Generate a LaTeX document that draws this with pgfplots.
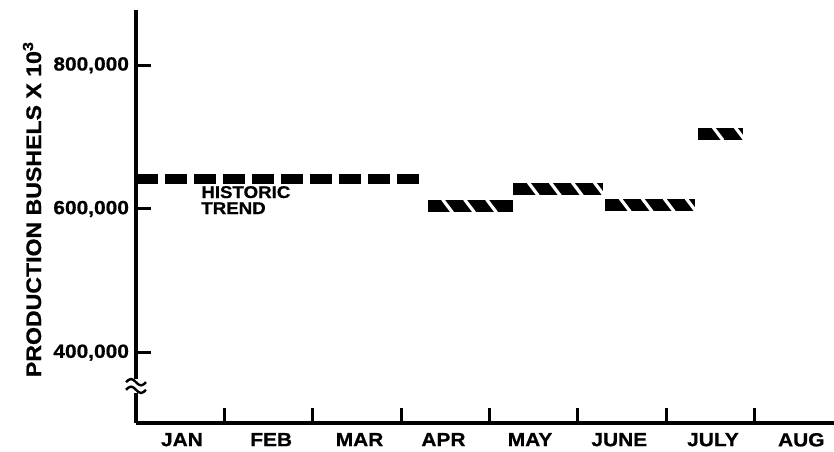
\documentclass[border=0pt]{standalone}
\usepackage{fontspec}
\setmainfont{Liberation Sans Bold}[FakeStretch=1.1, FakeBold=0.8]
\usepackage{pgfplots}
\pgfplotsset{compat=1.18}
\usetikzlibrary{decorations.markings}
\begin{document}
\begin{tikzpicture}
\useasboundingbox (0,0) rectangle (417pt,225.5pt);
\begin{axis}[
  at={(68pt,14pt)}, anchor=south west,
  scale only axis, width=349pt, height=206.5pt,
  xmin=0, xmax=7.9, ymin=302000, ymax=877000,
  axis x line=bottom, axis y line=left,
  axis line style={line width=1.6pt, -},
  tick align=inside,
  major tick length=7.5pt,
  tick style={line width=1.5pt, black},
  xtick={1,2,3,4,5,6,7}, xticklabels={},
  extra x ticks={0.52,1.53,2.53,3.48,4.46,5.47,6.53,7.53},
  extra x tick labels={JAN,FEB,MAR,APR,MAY,JUNE,JULY,AUG},
  extra x tick style={major tick length=0pt, tick style={draw=none},
     ticklabel style={yshift=-1.5pt}},
  ytick={400000,600000,800000},
  yticklabels={{400,000},{600,000},{800,000}},
  scaled y ticks=false,
  /pgf/number format/assume math mode=true,
  ticklabel style={font=\fontsize{9.5}{11}\selectfont},
  ylabel={PRODUCTION BUSHELS X 10\textsuperscript{3}},
  every axis y label/.style={at={(axis description cs:-0.149,0.518)}, rotate=90, anchor=center,
     font=\fontsize{10.5}{12}\selectfont},
  clip=false,
]
% historic trend
\addplot[black, line width=5pt, dash pattern=on 11pt off 3.5pt] coordinates {(0,642400) (3.25,642400)};
% monthly estimates (hatched bars)
\pgfplotsset{hbar/.style={black, line width=6pt, postaction={decorate},
  decoration={markings, mark=between positions 10pt and 1 step 11pt with {
    \draw[white, line width=1.6pt] (-2.5pt,3.3pt) -- (2.5pt,-3.3pt);}}}}
\addplot[hbar] coordinates {(3.30,604100) (4.27,604100)};
\addplot[hbar] coordinates {(4.27,627800) (5.28,627800)};
\addplot[hbar] coordinates {(5.31,605500) (6.33,605500)};
\addplot[hbar] coordinates {(6.36,705000) (6.87,705000)};
\node[anchor=base west, inner sep=0pt, font=\fontsize{8.5}{10}\selectfont] at (axis cs:0.735,615250) {HISTORIC};
\node[anchor=base west, inner sep=0pt, font=\fontsize{8.5}{10}\selectfont] at (axis cs:0.735,592980) {TREND};
\coordinate (brk) at (rel axis cs:0,0.0896);
\end{axis}
\fill[white] ([shift={(-1.5pt,-3.5pt)}]brk) rectangle ([shift={(1.5pt,3.5pt)}]brk);
\draw[line width=1.2pt] ([shift={(-5pt,1.9pt)}]brk) sin ++(2.5pt,1.6pt) cos ++(2.5pt,-1.6pt) sin ++(2.5pt,-1.6pt) cos ++(2.5pt,1.6pt);
\draw[line width=1.2pt] ([shift={(-5pt,-1.9pt)}]brk) sin ++(2.5pt,1.6pt) cos ++(2.5pt,-1.6pt) sin ++(2.5pt,-1.6pt) cos ++(2.5pt,1.6pt);
\end{tikzpicture}
\end{document}
